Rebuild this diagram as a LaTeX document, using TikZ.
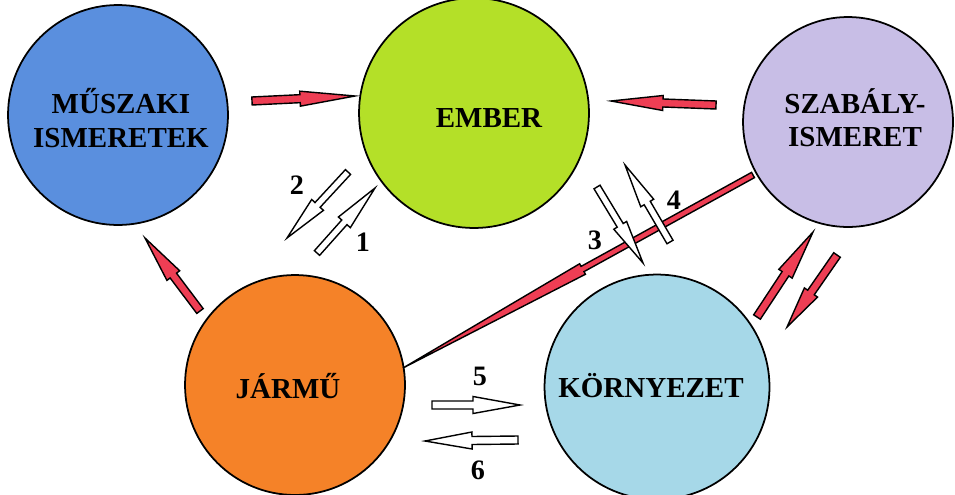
\documentclass[tikz,border=0pt]{standalone}
\usepackage{fontspec}
\setmainfont{Liberation Serif}
\definecolor{cblue}{RGB}{90,143,222}
\definecolor{cgreen}{RGB}{180,224,40}
\definecolor{clav}{RGB}{200,190,230}
\definecolor{corange}{RGB}{245,130,40}
\definecolor{clight}{RGB}{166,216,232}
\definecolor{cred}{RGB}{238,62,84}
\tikzset{
  ball/.style={circle,draw=black,line width=1pt,inner sep=0pt},
  lbl/.style={font=\fontsize{16.5}{19}\selectfont\bfseries,align=center,inner sep=0pt},
  num/.style={font=\fontsize{16}{19}\selectfont\bfseries,inner sep=0pt},
  redarr/.style={draw=black,fill=cred,line width=0.8pt,line join=miter},
  whitearr/.style={draw=black,fill=white,line width=0.8pt,line join=miter}
}
% style, x1,y1 (tail), x2,y2 (tip), shaft half width, head half width, head length
\newcommand\barr[8]{%
  \pgfmathsetmacro\bang{atan2(#5-#3,#4-#2)}%
  \pgfmathsetmacro\blen{veclen(#4-#2,#5-#3)}%
  \pgfmathsetmacro\bsh{\blen-#8}%
  \begin{scope}[shift={(#2,#3)},rotate=-\bang]
    \path[#1] (0,#6) -- (\bsh,#6) -- (\bsh,#7) -- (\blen,0) -- (\bsh,-#7) -- (\bsh,-#6) -- (0,-#6) -- cycle;
  \end{scope}}
\begin{document}
\begin{tikzpicture}[x=0.02cm,y=-0.02cm]
\useasboundingbox (0,0) rectangle (955,494);
\fill[white] (0,0) rectangle (955,494);
% circles
\node[ball,fill=cblue,minimum size=4.4cm] (musz) at (118,115) {};
\node[ball,fill=cgreen,minimum size=4.6cm] (ember) at (474,113) {};
\node[ball,fill=clav,minimum size=4.2cm] (szab) at (848,122) {};
\node[ball,fill=corange,minimum size=4.4cm] (jarmu) at (295,385) {};
\node[ball,fill=clight,minimum size=4.5cm] (korny) at (657,387) {};
% labels
\node[lbl] (tmusz) at (121,118) {MŰSZAKI\\ISMERETEK};
\node[lbl] (tember) at (489,118) {EMBER};
\node[lbl] (tszab) at (855,118) {SZABÁLY-\\ISMERET};
\node[lbl] (tjarmu) at (288,386) {JÁRMŰ};
\node[lbl] (tkorny) at (651,386) {KÖRNYEZET};
% red arrows
\barr{redarr}{252}{101}{355}{96}{4}{7.5}{55}
\barr{redarr}{716}{105}{611}{101}{4}{7.5}{52}
\barr{redarr}{200}{311}{145}{238}{4}{8}{47}
\barr{redarr}{757}{317}{813}{232}{4}{8}{50}
\barr{redarr}{837}{255}{787}{327}{4}{8}{42}
\barr{redarr}{753}{175}{403}{368}{3}{6}{205}
% white arrows
\barr{whitearr}{348}{172}{287}{238}{3.5}{8}{45}
\barr{whitearr}{317}{253}{375}{188}{3.5}{8}{46}
\barr{whitearr}{597}{187}{643}{263}{3.5}{7.5}{44}
\barr{whitearr}{670}{242}{625}{165}{3.5}{7.5}{44}
\barr{whitearr}{432}{405}{520}{405}{4}{8.5}{47}
\barr{whitearr}{518}{440}{425}{441}{4}{8.5}{47}
% numbers
\node[num] (n2) at (297,185) {2};
\node[num] (n1) at (363,242) {1};
\node[num] (n3) at (595,240) {3};
\node[num] (n4) at (674,200) {4};
\node[num] (n5) at (480,376) {5};
\node[num] (n6) at (478,470) {6};
\end{tikzpicture}
\end{document}
